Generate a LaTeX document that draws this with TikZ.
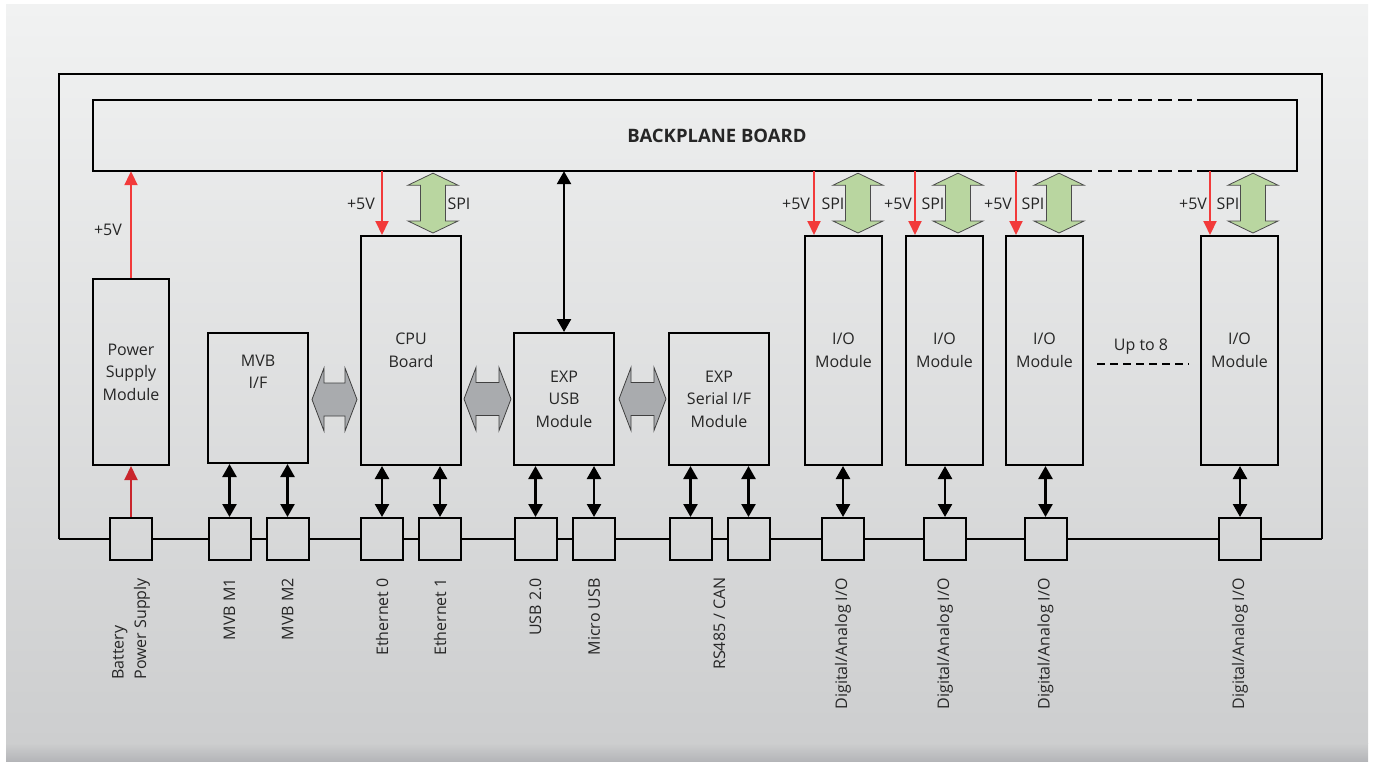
\documentclass[tikz,border=0pt]{standalone}
\usepackage{fontspec}
\setmainfont{Open Sans}
\usetikzlibrary{arrows.meta,calc}
\definecolor{bgtop}{HTML}{F1F2F2}
\definecolor{bgbot}{HTML}{CDCECF}
\definecolor{bgend}{HTML}{B3B4B7}
\definecolor{redA}{HTML}{F23A3A}
\definecolor{redB}{HTML}{C9252C}
\definecolor{spig}{HTML}{B9D6A0}
\definecolor{grayar}{HTML}{A9ABAE}
\newcommand\spiarr[2]{\draw[spistyle] (#1) -- ($(#1)+(25pt,-12pt)$) -- ($(#1)+(12.5pt,-12pt)$) -- ($(#2)+(12.5pt,12pt)$) -- ($(#2)+(25pt,12pt)$) -- (#2) -- ($(#2)+(-25pt,12pt)$) -- ($(#2)+(-12.5pt,12pt)$) -- ($(#1)+(-12.5pt,-12pt)$) -- ($(#1)+(-25pt,-12pt)$) -- cycle;}
\newcommand\grayarr[2]{\draw[graystyle] (#1) -- ($(#1)+(12pt,31.5pt)$) -- ($(#1)+(12pt,16.5pt)$) -- ($(#2)+(-12pt,16.5pt)$) -- ($(#2)+(-12pt,31.5pt)$) -- (#2) -- ($(#2)+(-12pt,-31.5pt)$) -- ($(#2)+(-12pt,-16.5pt)$) -- ($(#1)+(12pt,-16.5pt)$) -- ($(#1)+(12pt,-31.5pt)$) -- cycle;}
\begin{document}
\begin{tikzpicture}[x=1pt,y=-1pt,
  every node/.style={font=\fontsize{16}{22.5}\selectfont, inner sep=0pt, text=black!85},
  modbox/.style={draw=black, line width=2pt, align=center},
  conbox/.style={draw=black, line width=2pt, minimum width=42pt, minimum height=42pt},
  frameline/.style={draw=black, line width=2.5pt},
  busline/.style={draw=black, line width=2.2pt},
  red5/.style={draw=redA, line width=2pt, -{Triangle[width=13pt,length=14pt]}},
  redlow/.style={draw=redB, line width=2pt, -{Triangle[width=13pt,length=14pt]}},
  blk/.style={draw=black, line width=2.5pt, {Triangle[width=14pt,length=13pt]}-{Triangle[width=14pt,length=13pt]}},
  spistyle/.style={fill=spig, draw=black!70, line width=0.8pt},
  graystyle/.style={fill=grayar, draw=black!75, line width=0.8pt},
  lbl/.style={rotate=90, anchor=east, align=left}
]
\useasboundingbox (0,0) rectangle (1375,762);
% background
\shade[top color=bgtop, bottom color=bgbot] (6,5) rectangle (1368,743);
\shade[top color=bgbot, bottom color=bgend] (6,743) rectangle (1368,762);

% outer frame
\coordinate (fl) at (59,539);
\coordinate (fr) at (1322,539);
\draw[frameline] (fl) -- (59,74) -- (1322,74) -- (fr);

% backplane
\node[minimum width=1204pt, minimum height=71pt] (bp) at (695,135.5) {};
\draw[frameline] (1092,100) -- (93,100) -- (93,171) -- (1092,171);
\draw[frameline] (1197,100) -- (1297,100) -- (1297,171) -- (1197,171);
\draw[frameline, dash pattern=on 14pt off 6pt] (1098,100) -- (1192,100);
\draw[frameline, dash pattern=on 14pt off 6pt] (1098,171) -- (1192,171);
\node[font=\fontsize{18.5}{22}\selectfont\bfseries] (bpt) at (717,136) {BACKPLANE BOARD};

% modules
\node[modbox, minimum width=76pt, minimum height=186pt] (ps) at (131,372) {Power\\Supply\\Module};
\node[modbox, minimum width=100pt, minimum height=130pt] (mvb) at (258,398) {};
\node[align=center] (mvbt) at (258,372) {MVB\\I/F};
\node[modbox, minimum width=100pt, minimum height=229pt] (cpu) at (411,350.5) {CPU\\Board};
\node[modbox, minimum width=100pt, minimum height=132pt] (exp) at (564,399) {EXP\\USB\\Module};
\node[modbox, minimum width=100pt, minimum height=132pt] (ser) at (719,399) {EXP\\Serial I/F\\Module};
\node[modbox, minimum width=77pt, minimum height=229pt] (io1) at (843.5,350.5) {I/O\\Module};
\node[modbox, minimum width=77pt, minimum height=229pt] (io2) at (944.5,350.5) {I/O\\Module};
\node[modbox, minimum width=77pt, minimum height=229pt] (io3) at (1044.5,350.5) {I/O\\Module};
\node[modbox, minimum width=77pt, minimum height=229pt] (io4) at (1239.5,350.5) {I/O\\Module};

\node (upto) at (1141,347) {Up to 8};
\coordinate (ud1) at (1097,364);
\coordinate (ud2) at (1189,364);
\draw[line width=2.5pt, dash pattern=on 8pt off 5pt] (ud1) -- (ud2);

% connectors
\node[conbox] (cbat) at (131,539) {};
\node[conbox] (cm1) at (229.5,539) {};
\node[conbox] (cm2) at (287.5,539) {};
\node[conbox] (ce0) at (382,539) {};
\node[conbox] (ce1) at (440,539) {};
\node[conbox] (cu1) at (535.5,539) {};
\node[conbox] (cu2) at (594,539) {};
\node[conbox] (cr1) at (690.5,539) {};
\node[conbox] (cr2) at (748.5,539) {};
\node[conbox] (cd1) at (843,539) {};
\node[conbox] (cd2) at (945,539) {};
\node[conbox] (cd3) at (1045.5,539) {};
\node[conbox] (cd4) at (1240,539) {};

% bus line
\draw[busline] (fl) -- (cbat.west) (cbat.east) -- (cm1.west) (cm1.east) -- (cm2.west)
  (cm2.east) -- (ce0.west) (ce0.east) -- (ce1.west) (ce1.east) -- (cu1.west)
  (cu1.east) -- (cu2.west) (cu2.east) -- (cr1.west) (cr1.east) -- (cr2.west)
  (cr2.east) -- (cd1.west) (cd1.east) -- (cd2.west) (cd2.east) -- (cd3.west)
  (cd3.east) -- (cd4.west) (cd4.east) -- (fr);

% connector labels
\node[lbl] (lbat) at ([yshift=-17pt]cbat.south) {Battery\\Power Supply};
\node[lbl] (lm1) at ([yshift=-17pt]cm1.south) {MVB M1};
\node[lbl] (lm2) at ([yshift=-17pt]cm2.south) {MVB M2};
\node[lbl] (le0) at ([yshift=-17pt]ce0.south) {Ethernet 0};
\node[lbl] (le1) at ([yshift=-17pt]ce1.south) {Ethernet 1};
\node[lbl] (lu1) at ([yshift=-17pt]cu1.south) {USB 2.0};
\node[lbl] (lu2) at ([yshift=-17pt]cu2.south) {Micro USB};
\node[lbl] (lr) at (719.5,577) {RS485 / CAN};
\node[lbl] (ld1) at ([yshift=-17pt]cd1.south) {Digital/Analog I/O};
\node[lbl] (ld2) at ([yshift=-17pt]cd2.south) {Digital/Analog I/O};
\node[lbl] (ld3) at ([yshift=-17pt]cd3.south) {Digital/Analog I/O};
\node[lbl] (ld4) at ([yshift=-17pt]cd4.south) {Digital/Analog I/O};

% module <-> connector arrows
\draw[redlow] (cbat.north) -- (cbat.north |- ps.south);
\foreach \c/\m in {cm1/mvb,cm2/mvb,ce0/cpu,ce1/cpu,cu1/exp,cu2/exp,cr1/ser,cr2/ser,cd1/io1,cd2/io2,cd3/io3,cd4/io4}{
  \draw[blk] (\c.north) -- (\c.north |- \m.south);
}

% power arrows
\draw[red5] (ps.north) -- (ps.north |- bp.south);
\draw[red5] ([xshift=-29pt]cpu.north |- bp.south) -- ([xshift=-29pt]cpu.north);
\draw[red5] ([xshift=-29.5pt]io1.north |- bp.south) -- ([xshift=-29.5pt]io1.north);
\draw[red5] ([xshift=-29.5pt]io2.north |- bp.south) -- ([xshift=-29.5pt]io2.north);
\draw[red5] ([xshift=-28.5pt]io3.north |- bp.south) -- ([xshift=-28.5pt]io3.north);
\draw[red5] ([xshift=-29.5pt]io4.north |- bp.south) -- ([xshift=-29.5pt]io4.north);
\draw[blk] (exp.north |- bp.south) -- (exp.north);

% SPI arrows
\coordinate (s0t) at ([xshift=22pt,yshift=-2pt]cpu.north |- bp.south);
\coordinate (s0b) at ([xshift=22pt,yshift=2pt]cpu.north);
\spiarr{s0t}{s0b}
\coordinate (s1t) at ([xshift=14.5pt,yshift=-2pt]io1.north |- bp.south);
\coordinate (s1b) at ([xshift=14.5pt,yshift=2pt]io1.north);
\spiarr{s1t}{s1b}
\coordinate (s2t) at ([xshift=13.5pt,yshift=-2pt]io2.north |- bp.south);
\coordinate (s2b) at ([xshift=13.5pt,yshift=2pt]io2.north);
\spiarr{s2t}{s2b}
\coordinate (s3t) at ([xshift=14.5pt,yshift=-2pt]io3.north |- bp.south);
\coordinate (s3b) at ([xshift=14.5pt,yshift=2pt]io3.north);
\spiarr{s3t}{s3b}
\coordinate (s4t) at ([xshift=13.5pt,yshift=-2pt]io4.north |- bp.south);
\coordinate (s4b) at ([xshift=13.5pt,yshift=2pt]io4.north);
\spiarr{s4t}{s4b}

% gray bus arrows
\coordinate (g1l) at ([xshift=3pt,yshift=-1.5pt]mvb.east);
\coordinate (g1r) at ($(g1l -| cpu.west)+(-3pt,0)$);
\grayarr{g1l}{g1r}
\coordinate (g2l) at ([xshift=2pt]cpu.east |- exp.west);
\coordinate (g2r) at ([xshift=-2pt]exp.west);
\grayarr{g2l}{g2r}
\coordinate (g3l) at ([xshift=4pt]exp.east);
\coordinate (g3r) at ([xshift=-2pt]ser.west);
\grayarr{g3l}{g3r}

% power/SPI labels
\node (v0) at (108,230) {+5V};
\node (v1) at (361,204) {+5V};
\node (v2) at (796,204) {+5V};
\node (v3) at (898,204) {+5V};
\node (v4) at (998,204) {+5V};
\node (v5) at (1193,204) {+5V};
\node (p1) at (459,204) {SPI};
\node (p2) at (833,204) {SPI};
\node (p3) at (933,204) {SPI};
\node (p4) at (1033,204) {SPI};
\node (p5) at (1228,204) {SPI};
\end{tikzpicture}
\end{document}
